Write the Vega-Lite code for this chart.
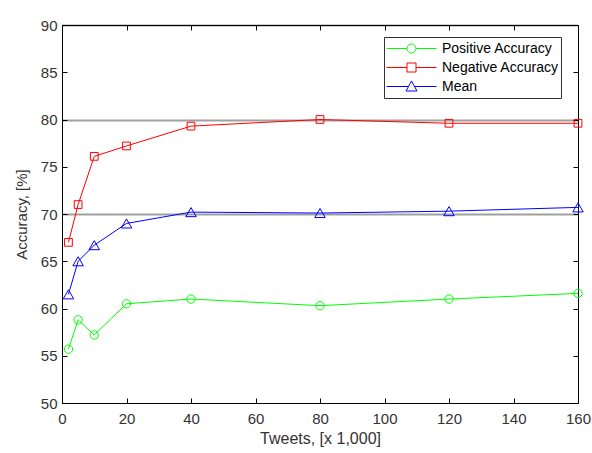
{
  "$schema": "https://vega.github.io/schema/vega-lite/v6.json",
  "width": 516,
  "height": 378,
  "autosize": {"type": "none"},
  "padding": {"left": 62, "top": 25, "right": 14, "bottom": 50},
  "background": "white",
  "config": {
    "view": {"stroke": "#000", "strokeWidth": 1},
    "font": "Liberation Sans",
    "axis": {
      "labelFontSize": 15,
      "labelColor": "#333",
      "labelFlush": false,
      "labelOverlap": false,
      "titleFontWeight": "normal",
      "titleColor": "#333",
      "grid": false
    }
  },
  "data": {
    "values": [
      {"tweets": 2, "series": "Positive Accuracy", "accuracy": 55.7},
      {"tweets": 5, "series": "Positive Accuracy", "accuracy": 58.8},
      {"tweets": 10, "series": "Positive Accuracy", "accuracy": 57.2},
      {"tweets": 20, "series": "Positive Accuracy", "accuracy": 60.5},
      {"tweets": 40, "series": "Positive Accuracy", "accuracy": 61.0},
      {"tweets": 80, "series": "Positive Accuracy", "accuracy": 60.3},
      {"tweets": 120, "series": "Positive Accuracy", "accuracy": 61.0},
      {"tweets": 160, "series": "Positive Accuracy", "accuracy": 61.6},
      {"tweets": 2, "series": "Negative Accuracy", "accuracy": 67.0},
      {"tweets": 5, "series": "Negative Accuracy", "accuracy": 71.0},
      {"tweets": 10, "series": "Negative Accuracy", "accuracy": 76.1},
      {"tweets": 20, "series": "Negative Accuracy", "accuracy": 77.2},
      {"tweets": 40, "series": "Negative Accuracy", "accuracy": 79.3},
      {"tweets": 80, "series": "Negative Accuracy", "accuracy": 80.0},
      {"tweets": 120, "series": "Negative Accuracy", "accuracy": 79.6},
      {"tweets": 160, "series": "Negative Accuracy", "accuracy": 79.6},
      {"tweets": 2, "series": "Mean", "accuracy": 61.5},
      {"tweets": 5, "series": "Mean", "accuracy": 65.0},
      {"tweets": 10, "series": "Mean", "accuracy": 66.7},
      {"tweets": 20, "series": "Mean", "accuracy": 69.0},
      {"tweets": 40, "series": "Mean", "accuracy": 70.2},
      {"tweets": 80, "series": "Mean", "accuracy": 70.1},
      {"tweets": 120, "series": "Mean", "accuracy": 70.3},
      {"tweets": 160, "series": "Mean", "accuracy": 70.7}
    ]
  },
  "encoding": {
    "color": {
      "field": "series", "type": "nominal",
      "scale": {"domain": ["Positive Accuracy", "Negative Accuracy", "Mean"], "range": ["#00ff00", "#ff0000", "#0000ff"]},
      "legend": {
        "title": null, "orient": "none", "legendX": 322, "legendY": 12,
        "padding": 2, "strokeColor": "#333", "fillColor": "#fff",
        "symbolSize": 2500, "clipHeight": 19, "rowPadding": 0, "labelOffset": 5,
        "labelFontSize": 14, "labelColor": "#000", "symbolStrokeWidth": 1
      }
    }
  },
  "layer": [
    {
      "mark": {"type": "point", "opacity": 0},
      "encoding": {
        "x": {"field": "tweets", "type": "quantitative", "scale": {"domain": [0, 160], "nice": false}, "axis": null},
        "y": {
          "field": "accuracy", "type": "quantitative", "scale": {"domain": [50, 90], "nice": false},
          "axis": {"orient": "left", "values": [70, 80, 90], "labels": false, "ticks": false, "domain": false, "title": null,
                   "grid": true, "gridColor": "#000", "gridDash": [1, 1], "gridWidth": 2, "gridOpacity": 0.75}
        }
      }
    },
    {
      "mark": {"type": "point", "opacity": 0},
      "encoding": {
        "x": {
          "field": "tweets", "type": "quantitative", "scale": {"domain": [0, 160], "nice": false},
          "axis": {"orient": "bottom", "values": [0, 20, 40, 60, 80, 100, 120, 140, 160], "labels": false, "ticks": false, "domain": false, "title": null,
                   "grid": true, "gridColor": "#000", "gridDash": [5, 368], "gridWidth": 1, "gridOpacity": 1}
        },
        "y": {
          "field": "accuracy", "type": "quantitative", "scale": {"domain": [50, 90], "nice": false},
          "axis": {"orient": "left", "values": [50, 55, 60, 65, 70, 75, 80, 85, 90], "labels": false, "ticks": false, "domain": false, "title": null,
                   "grid": true, "gridColor": "#000", "gridDash": [5, 506], "gridWidth": 1, "gridOpacity": 1}
        }
      }
    },
    {
      "mark": {"type": "line", "strokeWidth": 1},
      "encoding": {
        "x": {
          "field": "tweets", "type": "quantitative", "scale": {"domain": [0, 160], "nice": false},
          "axis": {"orient": "bottom", "values": [0, 20, 40, 60, 80, 100, 120, 140, 160], "domain": false, "ticks": false, "title": "Tweets, [x 1,000]", "titleFontSize": 16, "labelPadding": 8, "titlePadding": 4}
        },
        "y": {
          "field": "accuracy", "type": "quantitative", "scale": {"domain": [50, 90], "nice": false},
          "axis": {"orient": "left", "values": [50, 55, 60, 65, 70, 75, 80, 85, 90], "domain": false, "ticks": false, "title": "Accuracy, [%]", "titleFontSize": 15, "labelPadding": 5, "titlePadding": 11}
        }
      }
    },
    {
      "transform": [{"filter": "datum.series === 'Positive Accuracy'"}],
      "mark": {"type": "point", "shape": "circle", "filled": false, "strokeWidth": 1, "size": 70, "opacity": 1},
      "encoding": {
        "x": {"field": "tweets", "type": "quantitative", "scale": {"domain": [0, 160], "nice": false}, "axis": null},
        "y": {"field": "accuracy", "type": "quantitative", "scale": {"domain": [50, 90], "nice": false}, "axis": null}
      }
    },
    {
      "transform": [{"filter": "datum.series === 'Negative Accuracy'"}],
      "mark": {"type": "point", "shape": "square", "filled": false, "strokeWidth": 1, "size": 60, "opacity": 1},
      "encoding": {
        "x": {"field": "tweets", "type": "quantitative", "scale": {"domain": [0, 160], "nice": false}, "axis": null},
        "y": {"field": "accuracy", "type": "quantitative", "scale": {"domain": [50, 90], "nice": false}, "axis": null}
      }
    },
    {
      "transform": [{"filter": "datum.series === 'Mean'"}],
      "mark": {"type": "point", "shape": "triangle-up", "filled": false, "strokeWidth": 1, "size": 110, "opacity": 1},
      "encoding": {
        "x": {"field": "tweets", "type": "quantitative", "scale": {"domain": [0, 160], "nice": false}, "axis": null},
        "y": {"field": "accuracy", "type": "quantitative", "scale": {"domain": [50, 90], "nice": false}, "axis": null}
      }
    },
    {
      "transform": [{"filter": "datum.tweets < 0"}],
      "mark": {"type": "point", "filled": false, "strokeWidth": 1},
      "encoding": {
        "x": {"field": "tweets", "type": "quantitative", "scale": {"domain": [0, 160], "nice": false}, "axis": null},
        "y": {"field": "accuracy", "type": "quantitative", "scale": {"domain": [50, 90], "nice": false}, "axis": null},
        "shape": {
          "field": "series", "type": "nominal",
          "scale": {"domain": ["Positive Accuracy", "Negative Accuracy", "Mean"], "range": [
            "M-1,0H-0.18M0.18,0H1M0.18,0A0.18,0.18 0 1 1 -0.18,0A0.18,0.18 0 1 1 0.18,0",
            "M-1,0H-0.18M0.18,0H1M-0.18,-0.18H0.18V0.18H-0.18Z",
            "M-1,0H-0.12M0.12,0H1M0,-0.22L0.22,0.18H-0.22Z"
          ]},
          "legend": {
            "title": null, "orient": "none", "legendX": 322, "legendY": 12,
            "padding": 2, "strokeColor": "#333", "fillColor": "#fff",
            "symbolSize": 2500, "clipHeight": 19, "rowPadding": 0, "labelOffset": 5,
            "labelFontSize": 14, "labelColor": "#000", "symbolStrokeWidth": 1
          }
        }
      }
    }
  ],
  "resolve": {"axis": {"x": "independent", "y": "independent"}}
}
